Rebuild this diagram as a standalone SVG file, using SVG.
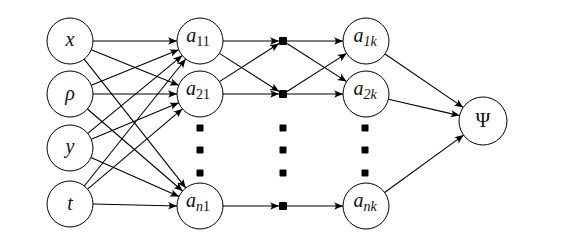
<svg xmlns="http://www.w3.org/2000/svg" width="568" height="245" viewBox="0 0 568 245">
<style>
.n{fill:#fff;stroke:#000;stroke-width:1}
.e{stroke:#000;stroke-width:1.1;fill:none;marker-end:url(#ah)}
.m{font-family:"Liberation Serif","Times New Roman",serif;font-style:italic;font-size:20px;fill:#111}
.s{font-size:14px}
.u{font-style:normal}
.sq{fill:#000}
</style>
<defs>
<marker id="ah" viewBox="-10 -5 11 10" markerWidth="11" markerHeight="10" refX="0" refY="0" orient="auto" markerUnits="userSpaceOnUse">
<path d="M0,0 L-9,-3.8 Q-5.5,0 -9,3.8 Z" fill="#000"/>
</marker>
</defs>
<rect width="568" height="245" fill="#fff"/>
<g id="connectors">
<line class="e" x1="93" y1="41" x2="177" y2="41"/>
<line class="e" x1="91.3" y1="49.7" x2="178.7" y2="85.3"/>
<line class="e" x1="84.2" y1="59.1" x2="185.8" y2="187.9"/>
<line class="e" x1="91.3" y1="85.3" x2="178.7" y2="49.7"/>
<line class="e" x1="93" y1="94" x2="177" y2="94"/>
<line class="e" x1="87.4" y1="109" x2="182.6" y2="191"/>
<line class="e" x1="87.8" y1="133.4" x2="182.2" y2="55.6"/>
<line class="e" x1="91.2" y1="139.2" x2="178.8" y2="102.8"/>
<line class="e" x1="91" y1="157.4" x2="179" y2="196.6"/>
<line class="e" x1="84.3" y1="186" x2="185.7" y2="59"/>
<line class="e" x1="87.6" y1="189.1" x2="182.4" y2="108.9"/>
<line class="e" x1="93" y1="204" x2="177" y2="206"/>
<line class="e" x1="223" y1="41" x2="279" y2="41"/>
<line class="e" x1="219.4" y1="53.4" x2="279" y2="91.5"/>
<line class="e" x1="219.4" y1="81.6" x2="279" y2="43.5"/>
<line class="e" x1="223" y1="94" x2="279" y2="94"/>
<line class="e" x1="223" y1="206" x2="279" y2="206"/>
<line class="e" x1="287" y1="41" x2="343" y2="41"/>
<line class="e" x1="287" y1="43.5" x2="346.6" y2="81.6"/>
<line class="e" x1="287" y1="91.5" x2="346.6" y2="53.4"/>
<line class="e" x1="287" y1="94" x2="343" y2="94"/>
<line class="e" x1="287" y1="206" x2="343" y2="206"/>
<line class="e" x1="385" y1="54" x2="463.2" y2="107.4"/>
<line class="e" x1="388.4" y1="99.2" x2="459.6" y2="115.6"/>
<line class="e" x1="384.6" y1="192.5" x2="463.6" y2="135.1"/>
</g>
<g id="in-x"><circle class="n" cx="70" cy="41" r="23"/><text class="m" x="70" y="46" text-anchor="middle">x</text></g>
<g id="in-rho"><circle class="n" cx="70" cy="94" r="23"/><text class="m" x="70" y="100" text-anchor="middle">ρ</text></g>
<g id="in-y"><circle class="n" cx="70" cy="148" r="23"/><text class="m" x="70" y="153" text-anchor="middle">y</text></g>
<g id="in-t"><circle class="n" cx="70" cy="204" r="23"/><text class="m" x="70" y="210" text-anchor="middle">t</text></g>
<g id="a11"><circle class="n" cx="200" cy="41" r="23"/><text class="m" x="198" y="42" text-anchor="middle">a<tspan class="s u" dy="4">11</tspan></text></g>
<g id="a21"><circle class="n" cx="200" cy="94" r="23"/><text class="m" x="198" y="95" text-anchor="middle">a<tspan class="s u" dy="4">21</tspan></text></g>
<g id="an1"><circle class="n" cx="200" cy="206" r="23"/><text class="m" x="198" y="207" text-anchor="middle">a<tspan class="s" dy="4">n</tspan><tspan class="s u">1</tspan></text></g>
<g id="s1"><rect class="sq" x="279" y="37" width="8" height="8" rx="1"/></g>
<g id="s2"><rect class="sq" x="279" y="90" width="8" height="8" rx="1"/></g>
<g id="sn"><rect class="sq" x="279" y="202" width="8" height="8" rx="1"/></g>
<g id="a1k"><circle class="n" cx="366" cy="41" r="23"/><text class="m" x="365" y="42" text-anchor="middle">a<tspan class="s" dy="4">1k</tspan></text></g>
<g id="a2k"><circle class="n" cx="366" cy="94" r="23"/><text class="m" x="365" y="95" text-anchor="middle">a<tspan class="s" dy="4">2k</tspan></text></g>
<g id="ank"><circle class="n" cx="366" cy="206" r="23"/><text class="m" x="365" y="207" text-anchor="middle">a<tspan class="s" dy="4">nk</tspan></text></g>
<g id="psi"><circle class="n" cx="483" cy="121" r="24"/><text class="m u" x="483" y="127" text-anchor="middle">Ψ</text></g>
<g id="dots">
<rect class="sq" x="196.5" y="124.5" width="7" height="7" rx="1"/>
<rect class="sq" x="196.5" y="146.5" width="7" height="7" rx="1"/>
<rect class="sq" x="196.5" y="169.5" width="7" height="7" rx="1"/>
<rect class="sq" x="279.5" y="124.5" width="7" height="7" rx="1"/>
<rect class="sq" x="279.5" y="146.5" width="7" height="7" rx="1"/>
<rect class="sq" x="279.5" y="169.5" width="7" height="7" rx="1"/>
<rect class="sq" x="361.5" y="124.5" width="7" height="7" rx="1"/>
<rect class="sq" x="361.5" y="146.5" width="7" height="7" rx="1"/>
<rect class="sq" x="361.5" y="169.5" width="7" height="7" rx="1"/>
</g>
</svg>
